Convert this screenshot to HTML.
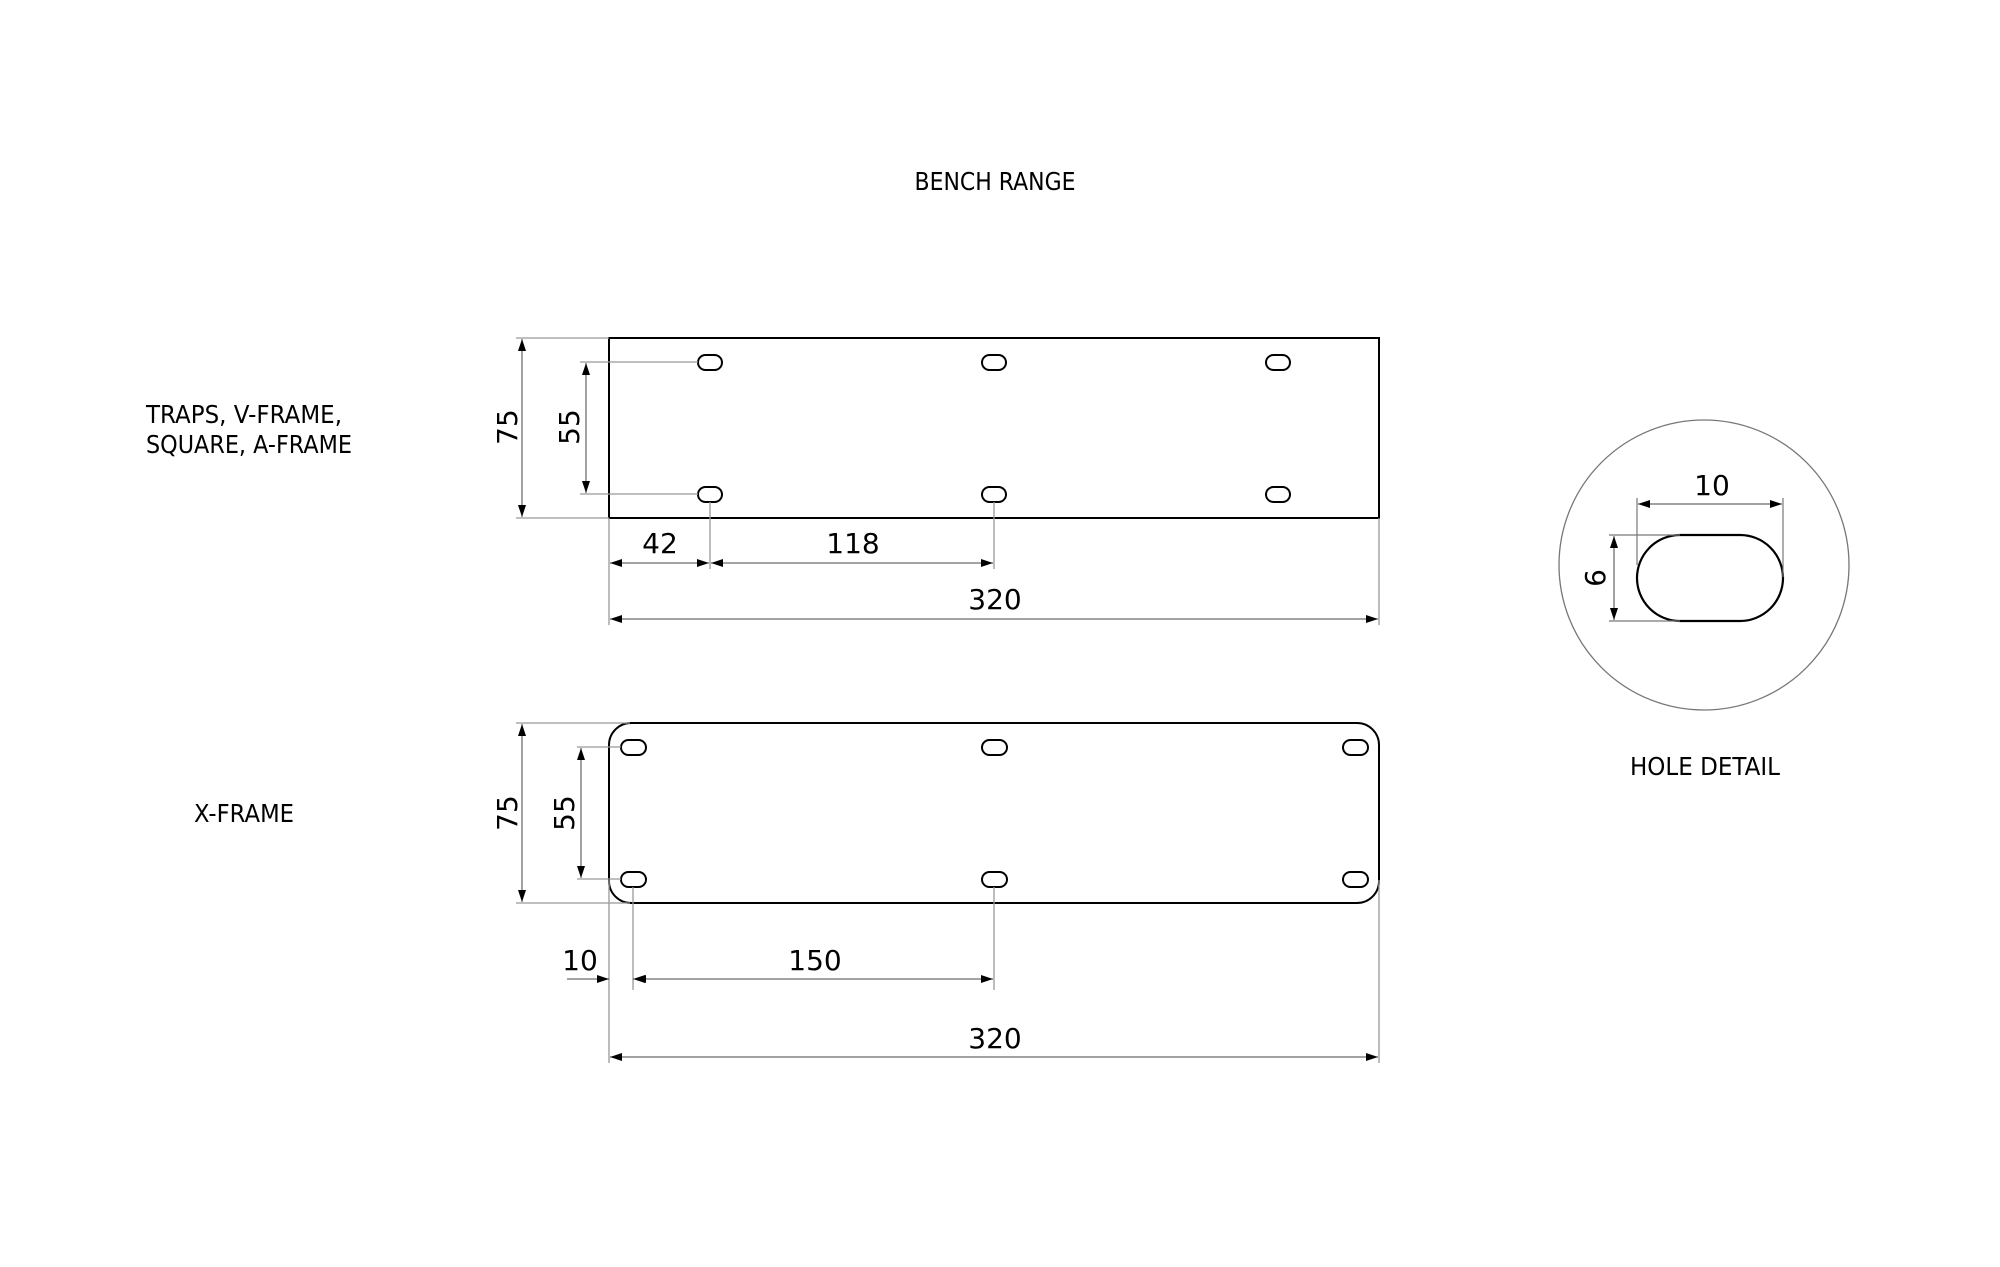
<!DOCTYPE html>
<html><head><meta charset="utf-8"><style>html,body{margin:0;padding:0;background:#fff}svg{display:block}</style></head>
<body>
<svg width="2000" height="1267" viewBox="0 0 2000 1267" xmlns="http://www.w3.org/2000/svg" font-family="'DejaVu Sans','Liberation Sans',sans-serif">
<defs>
<marker id="a" viewBox="0 0 12 8" refX="12" refY="4" markerWidth="12" markerHeight="8" markerUnits="userSpaceOnUse" orient="auto-start-reverse"><path d="M0,0 L12,4 L0,8z" fill="#000"/></marker>
</defs>
<g font-size="25" fill="#000">
<text x="995" y="190" text-anchor="middle" textLength="161" lengthAdjust="spacingAndGlyphs">BENCH RANGE</text>
<text x="146" y="423" textLength="196" lengthAdjust="spacingAndGlyphs">TRAPS, V-FRAME,</text>
<text x="146" y="453" textLength="206" lengthAdjust="spacingAndGlyphs">SQUARE, A-FRAME</text>
<text x="244" y="822" text-anchor="middle" textLength="100" lengthAdjust="spacingAndGlyphs">X-FRAME</text>
<text x="1705" y="775" text-anchor="middle" textLength="150" lengthAdjust="spacingAndGlyphs">HOLE DETAIL</text>
</g>
<!-- top plate -->
<g fill="none" stroke="#000" stroke-width="2">
<rect x="609" y="338" width="770" height="180"/>
<rect x="698" y="355" width="24" height="15" rx="7.5"/>
<rect x="982" y="355" width="24" height="15" rx="7.5"/>
<rect x="1266" y="355" width="24" height="15" rx="7.5"/>
<rect x="698" y="487" width="24" height="15" rx="7.5"/>
<rect x="982" y="487" width="24" height="15" rx="7.5"/>
<rect x="1266" y="487" width="24" height="15" rx="7.5"/>
</g>
<g stroke="#999" stroke-width="1.3" fill="none">
<line x1="516" y1="338" x2="609" y2="338"/><line x1="516" y1="518" x2="609" y2="518"/>
<line x1="580" y1="362" x2="698" y2="362"/><line x1="580" y1="494" x2="698" y2="494"/>
<line x1="609" y1="518" x2="609" y2="625"/><line x1="1379" y1="518" x2="1379" y2="625"/>
<line x1="710" y1="502" x2="710" y2="569"/><line x1="994" y1="502" x2="994" y2="569"/>
</g>
<g stroke="#444" stroke-width="1" fill="none">
<line x1="522" y1="339" x2="522" y2="517" marker-start="url(#a)" marker-end="url(#a)"/>
<line x1="586" y1="363" x2="586" y2="493" marker-start="url(#a)" marker-end="url(#a)"/>
<line x1="610" y1="563" x2="709" y2="563" marker-start="url(#a)" marker-end="url(#a)"/>
<line x1="711" y1="563" x2="993" y2="563" marker-start="url(#a)" marker-end="url(#a)"/>
<line x1="610" y1="619" x2="1378" y2="619" marker-start="url(#a)" marker-end="url(#a)"/>
</g>
<g font-size="28" fill="#000" text-anchor="middle">
<text transform="translate(517,427) rotate(-90)">75</text>
<text transform="translate(579,427) rotate(-90)">55</text>
<text x="660" y="553">42</text>
<text x="853" y="553">118</text>
<text x="995" y="609">320</text>
</g>
<!-- bottom plate -->
<g fill="none" stroke="#000" stroke-width="2">
<rect x="609" y="723" width="770" height="180" rx="22"/>
<rect x="621" y="740" width="25" height="15" rx="7.5"/>
<rect x="982" y="740" width="25" height="15" rx="7.5"/>
<rect x="1343" y="740" width="25" height="15" rx="7.5"/>
<rect x="621" y="872" width="25" height="15" rx="7.5"/>
<rect x="982" y="872" width="25" height="15" rx="7.5"/>
<rect x="1343" y="872" width="25" height="15" rx="7.5"/>
</g>
<g stroke="#999" stroke-width="1.3" fill="none">
<line x1="516" y1="723" x2="630" y2="723"/><line x1="516" y1="903" x2="630" y2="903"/>
<line x1="577" y1="747" x2="621" y2="747"/><line x1="577" y1="879" x2="621" y2="879"/>
<line x1="609" y1="880" x2="609" y2="1063"/><line x1="1379" y1="880" x2="1379" y2="1063"/>
<line x1="633" y1="887" x2="633" y2="990"/><line x1="994" y1="887" x2="994" y2="990"/>
</g>
<g stroke="#444" stroke-width="1" fill="none">
<line x1="522" y1="724" x2="522" y2="902" marker-start="url(#a)" marker-end="url(#a)"/>
<line x1="581" y1="748" x2="581" y2="878" marker-start="url(#a)" marker-end="url(#a)"/>
<line x1="567" y1="979" x2="609" y2="979" marker-end="url(#a)"/>
<line x1="633" y1="979" x2="646" y2="979" marker-start="url(#a)"/>
<line x1="634" y1="979" x2="993" y2="979" marker-start="url(#a)" marker-end="url(#a)"/>
<line x1="610" y1="1057" x2="1378" y2="1057" marker-start="url(#a)" marker-end="url(#a)"/>
</g>
<g font-size="28" fill="#000" text-anchor="middle">
<text transform="translate(517,813) rotate(-90)">75</text>
<text transform="translate(574,813) rotate(-90)">55</text>
<text x="580" y="970">10</text>
<text x="815" y="970">150</text>
<text x="995" y="1048">320</text>
</g>
<!-- hole detail -->
<circle cx="1704" cy="565" r="145" fill="none" stroke="#777" stroke-width="1.3"/>
<rect x="1637" y="535" width="146" height="86" rx="43" fill="none" stroke="#000" stroke-width="2.2"/>
<g stroke="#777" stroke-width="1.2" fill="none">
<line x1="1637" y1="498" x2="1637" y2="565"/><line x1="1783" y1="498" x2="1783" y2="577"/>
<line x1="1609" y1="535" x2="1680" y2="535"/><line x1="1609" y1="621" x2="1680" y2="621"/>
</g>
<g stroke="#444" stroke-width="1" fill="none">
<line x1="1638" y1="504" x2="1782" y2="504" marker-start="url(#a)" marker-end="url(#a)"/>
<line x1="1614" y1="536" x2="1614" y2="620" marker-start="url(#a)" marker-end="url(#a)"/>
</g>
<g font-size="28" fill="#000" text-anchor="middle">
<text x="1712" y="495">10</text>
<text transform="translate(1605,578) rotate(-90)">6</text>
</g>
</svg>
</body></html>
